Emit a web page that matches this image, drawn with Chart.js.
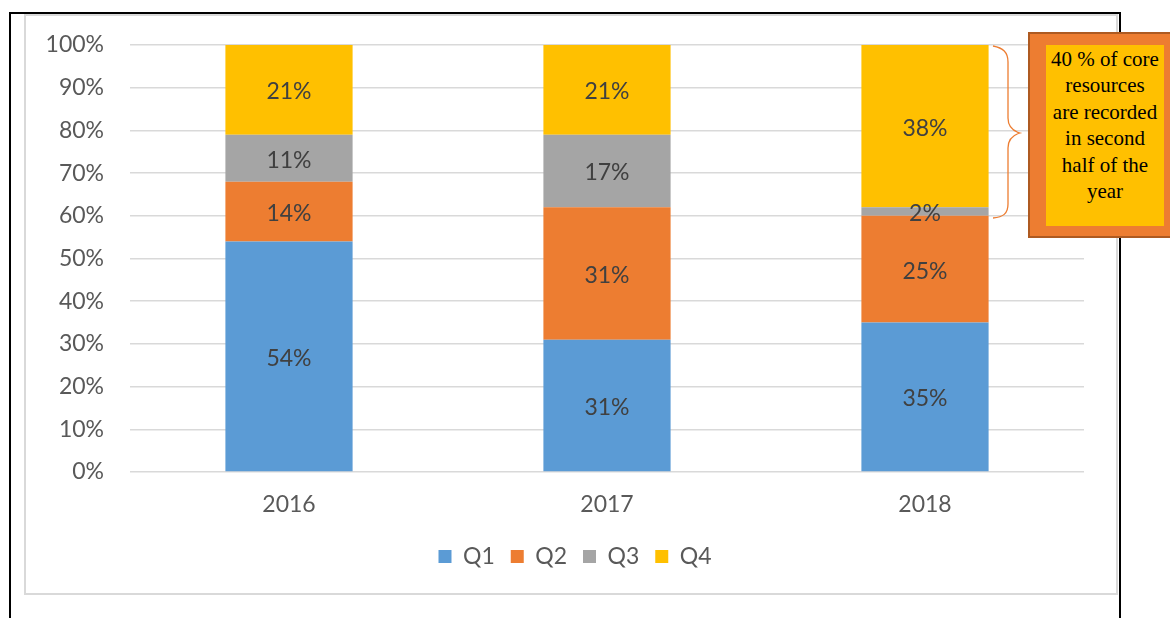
<!DOCTYPE html>
<html>
<head>
<meta charset="utf-8">
<script src="https://cdn.jsdelivr.net/npm/chart.js@4.4.0/dist/chart.umd.min.js"></script>
<style>
  html, body { margin: 0; padding: 0; background: #fff; }
  body { width: 1170px; height: 618px; position: relative; overflow: hidden; }
  .line { position: absolute; background: #000; }
  #frame { position: absolute; left: 24px; top: 14px; width: 1090px; height: 577px; border: 2px solid #d9d9d9; }
  #wrap { position: absolute; left: 0; top: 0; width: 1170px; height: 618px; }
  #note {
    position: absolute; left: 1028px; top: 32px; width: 160px; height: 202px;
    background: #ed7d31; border: 2px solid #ae5a21;
  }
  #note div {
    position: absolute; left: 16px; top: 11px; width: 118px; height: 181px;
    background: #ffc000; color: #000; text-align: center;
    font-family: "Liberation Serif", "Times New Roman", serif; font-size: 21px; line-height: 26.4px;
    padding-top: 1px; box-sizing: border-box;
  }
  #brace { position: absolute; left: 0; top: 0; }
</style>
</head>
<body>
<div class="line" style="left:9px;top:12px;width:2px;height:606px"></div>
<div class="line" style="left:9px;top:12px;width:1112px;height:2px"></div>
<div class="line" style="left:1119px;top:12px;width:2px;height:606px"></div>
<div id="frame"></div>
<div id="wrap"><canvas id="chart" width="1170" height="618"></canvas></div>
<svg id="brace" width="1170" height="618">
  <path d="M993 46 C1003 48 1008 52 1008 62 L1008 118 C1008 127 1013 131 1020 133 C1013 135 1008 139 1008 148 L1008 204 C1008 214 1003 217 993 218"
        fill="none" stroke="#ed7d31" stroke-width="1.3"/>
</svg>
<div id="note"><div>40 % of core<br>resources<br>are recorded<br>in second<br>half of the<br>year</div></div>
<script>
const years = ["2016", "2017", "2018"];
const q1 = [54, 31, 35];
const q2 = [14, 31, 25];
const q3 = [11, 17, 2];
const q4 = [21, 21, 38];
const seriesNames = ["Q1", "Q2", "Q3", "Q4"];
const seriesColors = ["#5b9bd5", "#ed7d31", "#a5a5a5", "#ffc000"];

const textFont = "Lato, 'Open Sans', sans-serif";

// labels in the middle of each segment
const segmentLabels = {
  id: "segmentLabels",
  afterDatasetsDraw(chart) {
    const ctx = chart.ctx;
    ctx.save();
    ctx.font = "23px " + textFont;
    ctx.fillStyle = "#404040";
    ctx.textAlign = "center";
    ctx.textBaseline = "middle";
    chart.data.datasets.forEach((ds, i) => {
      chart.getDatasetMeta(i).data.forEach((bar, j) => {
        const y = (bar.y + bar.base) / 2;
        ctx.fillText(ds.data[j] + "%", bar.x, y + 2);
      });
    });
    ctx.restore();
  }
};

// centre the legend under the frame rather than the canvas
const legendShift = {
  id: "legendShift",
  afterLayout(chart) {
    chart.legend.left += 33;
    chart.legend.right += 33;
  }
};

const values = [q1, q2, q3, q4];

new Chart(document.getElementById("chart"), {
  type: "bar",
  data: {
    labels: years,
    datasets: seriesNames.map((name, i) => ({
      label: name,
      data: values[i],
      backgroundColor: seriesColors[i],
      borderWidth: 0,
      categoryPercentage: 1,
      barPercentage: 0.4
    }))
  },
  options: {
    responsive: false,
    animation: false,
    layout: { padding: { left: 0, right: 86, top: 45, bottom: 40 } },
    plugins: {
      tooltip: { enabled: false },
      legend: {
        position: "bottom",
        labels: {
          boxWidth: 13,
          boxHeight: 13,
          padding: 16,
          color: "#595959",
          font: { family: textFont, size: 23 }
        }
      }
    },
    scales: {
      x: {
        stacked: true,
        grid: { display: false },
        border: { display: false },
        ticks: { color: "#595959", padding: 11, font: { family: textFont, size: 23 } },
        afterFit(axis) { axis.height = 57; }
      },
      y: {
        stacked: true,
        min: 0,
        max: 100,
        grid: { color: "#d9d9d9", lineWidth: 1.5, drawTicks: false },
        border: { display: false },
        ticks: {
          stepSize: 10,
          padding: 26,
          color: "#595959",
          font: { family: textFont, size: 23 },
          callback: v => v + "%"
        },
        afterFit(axis) { axis.width = 130; }
      }
    }
  },
  plugins: [segmentLabels, legendShift]
});
</script>
</body>
</html>
